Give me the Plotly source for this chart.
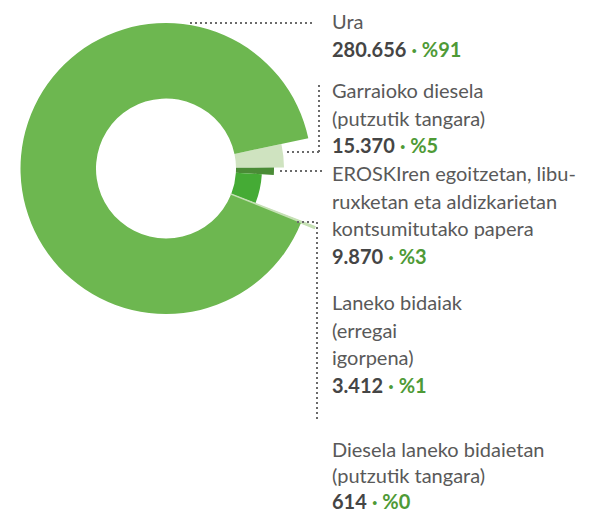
import plotly.graph_objects as go

# ---- data ----
categories = ["Ura", "Garraioko diesela (putzutik tangara)",
              "EROSKIren egoitzetan, liburuxketan eta aldizkarietan kontsumitutako papera",
              "Laneko bidaiak (erregai igorpena)",
              "Diesela laneko bidaietan (putzutik tangara)"]
values = [280656, 15370, 9870, 3412, 614]
label_lines = [
    ["Ura"],
    ["Garraioko diesela", "(putzutik tangara)"],
    ["EROSKIren egoitzetan, libu-", "ruxketan eta aldizkarietan", "kontsumitutako papera"],
    ["Laneko bidaiak", "(erregai", "igorpena)"],
    ["Diesela laneko bidaietan", "(putzutik tangara)"],
]

# ---- style ----
W, H = 595, 514
CX, CY, RMAX = 166, 168.5, 162
INNER = 70
# order in which sectors are drawn clockwise (indices into data)
draw_order = [2, 3, 1, 4, 0]
outer_r = {0: 145.5, 1: 96, 2: 118, 3: 108, 4: 160}
colors = {0: "#6db750", 1: "#45ab35", 2: "#cfe3c0", 3: "#4a8c36", 4: "#c5e0b4"}
edge_w = {0: 0, 1: 0, 2: 0, 3: 0, 4: 1.2}
start_rotation = 12

total = sum(values)
thetas, widths, rs, cols, names, lws = [], [], [], [], [], []
acc = 0.0
for i in draw_order:
    w = values[i] / total * 360
    thetas.append(acc + w / 2)
    widths.append(w)
    rs.append(outer_r[i] - INNER)
    cols.append(colors[i])
    names.append(categories[i])
    lws.append(edge_w[i])
    acc += w

fig = go.Figure()
fig.add_trace(go.Barpolar(
    theta=thetas, width=widths, r=rs, base=[INNER] * len(rs),
    marker=dict(color=cols, line=dict(width=lws, color=cols)),
    hovertext=names, hoverinfo="text", showlegend=False,
))

fig.update_layout(
    width=W, height=H, margin=dict(l=0, r=0, t=0, b=0),
    paper_bgcolor="white", plot_bgcolor="white",
    polar=dict(
        domain=dict(x=[(CX - RMAX) / W, (CX + RMAX) / W],
                    y=[1 - (CY + RMAX) / H, 1 - (CY - RMAX) / H]),
        bgcolor="rgba(0,0,0,0)",
        radialaxis=dict(range=[0, RMAX], visible=False),
        angularaxis=dict(visible=False, direction="clockwise", rotation=start_rotation),
        hole=0,
    ),
)

FONT = "Lato"
FS = 20
TX = 331
first_y = [21, 90, 173, 302, 449]
line_step = [27.6, 27.6, 27.6, 27.6, 26]

def px(x):
    return x / W

def py(y):
    return 1 - y / H

for i, lines in enumerate(label_lines):
    y = first_y[i]
    for ln in lines:
        fig.add_annotation(x=px(TX), y=py(y), xref="paper", yref="paper",
                           xanchor="left", yanchor="middle", showarrow=False,
                           borderpad=0,
                           text=ln, font=dict(family=FONT, size=FS, color="#595959"))
        y += line_step[i]
    num = f"{values[i]:,}".replace(",", ".")
    pct = round(values[i] / total * 100)
    fig.add_annotation(x=px(TX), y=py(y), xref="paper", yref="paper",
                       xanchor="left", yanchor="middle", showarrow=False,
                       borderpad=0,
                       text=f"<b>{num}</b> <b><span style='color:#4e9a36'>· %{pct}</span></b>",
                       font=dict(family=FONT, size=FS, color="#454545"))

# dotted leader lines
leaders = [
    [(190, 23), (315, 23)],
    [(287, 152), (319, 152), (319, 82)],
    [(280, 171), (325, 171)],
    [(297, 222), (317, 222), (317, 420)],
]
for pts in leaders:
    for (x0, y0), (x1, y1) in zip(pts[:-1], pts[1:]):
        fig.add_shape(type="line", xref="paper", yref="paper",
                      x0=px(x0), y0=py(y0), x1=px(x1), y1=py(y1),
                      line=dict(color="#6a6a6a", width=2, dash="2px,3px"))

fig.write_html("out.html", config={"displayModeBar": False},
               post_script="document.body.style.margin='0';document.body.style.padding='0';document.body.style.overflow='hidden';")
